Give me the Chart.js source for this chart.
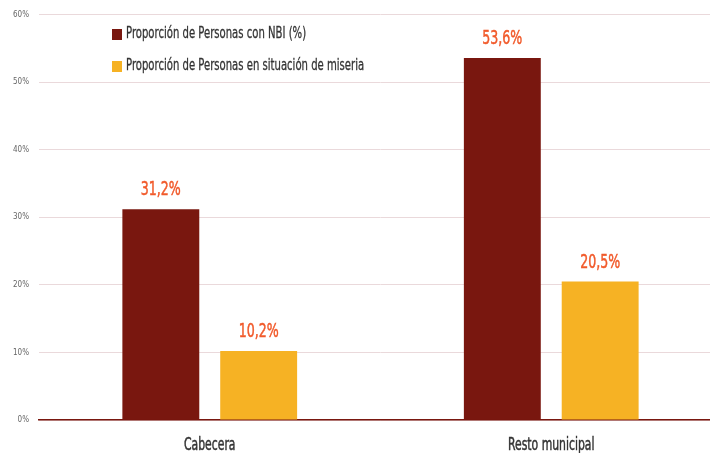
<!DOCTYPE html>
<html>
<head>
<meta charset="utf-8">
<script src="https://cdn.jsdelivr.net/npm/chart.js@4"></script>
<style>
  html, body { margin: 0; padding: 0; background: #fff; }
  #wrap { width: 710px; height: 453px; overflow: hidden; }
</style>
</head>
<body>
<div id="wrap"><canvas id="chart" width="722" height="453"></canvas></div>
<script>
const categories = ["Cabecera", "Resto municipal"];
const seriesNames = ["Proporción de Personas con NBI (%)", "Proporción de Personas en situación de miseria"];
const nbiValues = [31.2, 53.6];
const miseriaValues = [10.2, 20.5];
const valueLabels = [["31,2%", "53,6%"], ["10,2%", "20,5%"]];
const yTicks = [0, 10, 20, 30, 40, 50, 60];

const FONT = "'DejaVu Sans Condensed', 'DejaVu Sans', sans-serif";
const COLORS = ['#79170f', '#f6b224'];
const NARROW = 0.7; // squeeze text horizontally, the original uses a very narrow face

function narrowText(ctx, text, x, y, squeeze, stroke) {
  ctx.save();
  ctx.translate(x, y);
  ctx.scale(squeeze, 1);
  ctx.fillText(text, 0, 0);
  if (stroke) {
    ctx.strokeStyle = ctx.fillStyle;
    ctx.lineWidth = stroke;
    ctx.strokeText(text, 0, 0);
  }
  ctx.restore();
}

// value labels above each bar
const valueLabelPlugin = {
  id: 'valueLabels',
  afterDatasetsDraw(chart) {
    const ctx = chart.ctx;
    ctx.save();
    ctx.font = 'condensed 20px ' + FONT;
    ctx.fillStyle = '#f15a2b';
    ctx.textAlign = 'center';
    ctx.textBaseline = 'bottom';
    chart.data.datasets.forEach((ds, i) => {
      chart.getDatasetMeta(i).data.forEach((bar, j) => {
        narrowText(ctx, valueLabels[i][j], bar.x, bar.y - 9, NARROW, 0.5);
      });
    });
    ctx.restore();
  }
};

// category labels under the axis
const categoryLabelPlugin = {
  id: 'categoryLabels',
  afterDraw(chart) {
    const ctx = chart.ctx;
    const xs = chart.scales.x;
    ctx.save();
    ctx.font = 'condensed 18px ' + FONT;
    ctx.fillStyle = '#333';
    ctx.textAlign = 'center';
    ctx.textBaseline = 'middle';
    chart.data.labels.forEach((lab, i) => {
      narrowText(ctx, lab, xs.getPixelForTick(i), chart.chartArea.bottom + 25, 0.67, 0.5);
    });
    ctx.restore();
  }
};

// legend drawn inside the plot area, top-left
const insideLegendPlugin = {
  id: 'insideLegend',
  afterDraw(chart) {
    const ctx = chart.ctx;
    ctx.save();
    ctx.font = 'condensed 16px ' + FONT;
    ctx.textBaseline = 'middle';
    chart.data.datasets.forEach((ds, i) => {
      const y = 34 + i * 32;
      ctx.fillStyle = ds.backgroundColor;
      ctx.fillRect(112, y - 5, 10, 11);
      ctx.fillStyle = '#333';
      narrowText(ctx, ds.label, 126, y, NARROW, 0.3);
    });
    ctx.restore();
  }
};

new Chart(document.getElementById('chart'), {
  type: 'bar',
  data: {
    labels: categories,
    datasets: [
      { label: seriesNames[0], data: nbiValues, backgroundColor: COLORS[0] },
      { label: seriesNames[1], data: miseriaValues, backgroundColor: COLORS[1] }
    ]
  },
  options: {
    responsive: false,
    animation: false,
    devicePixelRatio: 1,
    layout: { padding: { top: 11, right: 0, left: 3, bottom: 0 } },
    datasets: {
      bar: { categoryPercentage: 0.573, barPercentage: 0.786 }
    },
    plugins: {
      legend: { display: false },
      tooltip: { enabled: false }
    },
    scales: {
      x: {
        grid: { display: false },
        border: { color: '#79170f', width: 1.5 },
        ticks: { display: false },
        afterFit(axis) { axis.height = 33; }
      },
      y: {
        min: 0,
        max: 60,
        afterBuildTicks(axis) { axis.ticks = yTicks.map(v => ({ value: v })); },
        grid: { color: '#ead9db', lineWidth: 1, drawTicks: false },
        border: { display: false },
        ticks: {
          color: '#666',
          font: { family: FONT, style: 'condensed', size: 8 },
          padding: 10,
          callback: v => v + '%'
        }
      }
    }
  },
  plugins: [valueLabelPlugin, categoryLabelPlugin, insideLegendPlugin]
});
</script>
</body>
</html>
